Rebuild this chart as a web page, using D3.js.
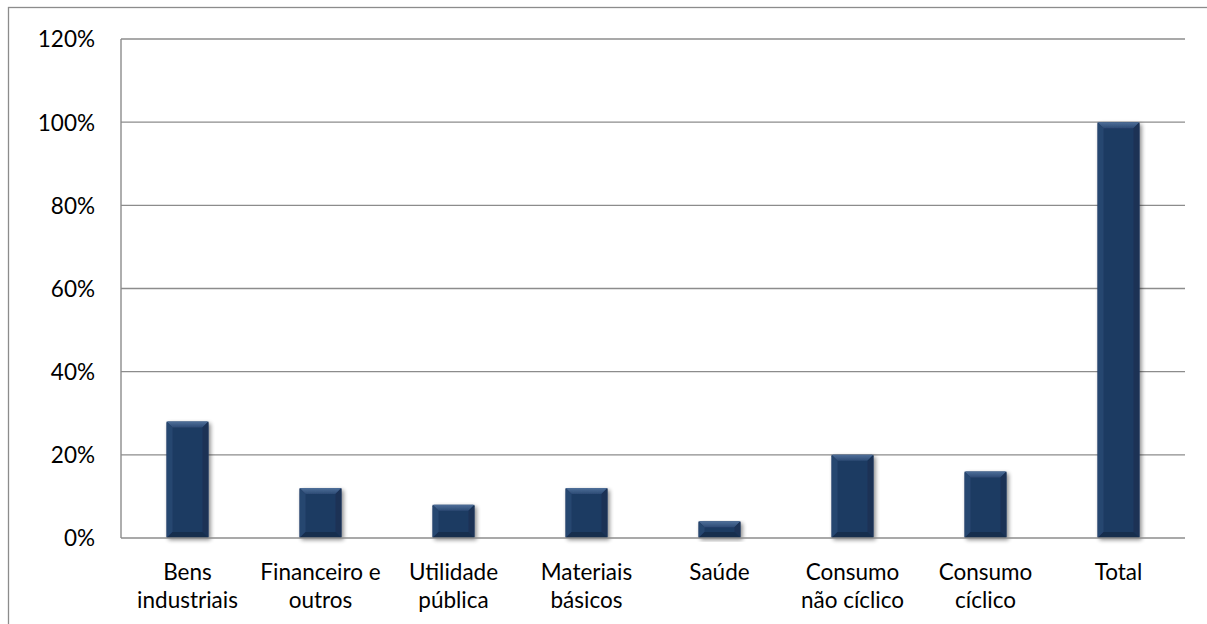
<!DOCTYPE html>
<html>
<head>
<meta charset="utf-8">
<script src="https://cdn.jsdelivr.net/npm/d3@7"></script>
<style>
  html, body { margin: 0; padding: 0; background: #fff; }
  svg { display: block; }
  text { font-family: Lato, "Open Sans", sans-serif; fill: #000; }
</style>
</head>
<body>
<svg id="chart" width="1207" height="624"></svg>
<script>
const categories = [
  ["Bens", "industriais"],
  ["Financeiro e", "outros"],
  ["Utilidade", "pública"],
  ["Materiais", "básicos"],
  ["Saúde"],
  ["Consumo", "não cíclico"],
  ["Consumo", "cíclico"],
  ["Total"]
];
const values = [28, 12, 8, 12, 4, 20, 16, 100];
const yTicks = [0, 20, 40, 60, 80, 100, 120];

const svg = d3.select("#chart");
const plot = { left: 121, right: 1185, top: 39, bottom: 538 };
const FONT = "22.5px";

// outer chart border
svg.append("rect")
  .attr("x", 8.5).attr("y", 7.5)
  .attr("width", 1240).attr("height", 700)
  .attr("fill", "none").attr("stroke", "#8c8c8c").attr("stroke-width", 1.3);

const x = d3.scaleBand()
  .domain(d3.range(categories.length))
  .range([plot.left, plot.right])
  .paddingInner(0.685).paddingOuter(0.3425);

const y = d3.scaleLinear().domain([0, 120]).range([plot.bottom, plot.top]);

const defs = svg.append("defs");
const f = defs.append("filter").attr("id", "shadow")
  .attr("x", "-30%").attr("y", "-10%").attr("width", "160%").attr("height", "130%");
f.append("feGaussianBlur").attr("in", "SourceAlpha").attr("stdDeviation", 2.2).attr("result", "b");
f.append("feOffset").attr("in", "b").attr("dx", 1.5).attr("dy", 1.5).attr("result", "o");
f.append("feComponentTransfer").attr("in", "o").attr("result", "o2")
  .append("feFuncA").attr("type", "linear").attr("slope", 0.45);
const m = f.append("feMerge");
m.append("feMergeNode").attr("in", "o2");
m.append("feMergeNode").attr("in", "SourceGraphic");

const topGrad = defs.append("linearGradient").attr("id", "topGrad")
  .attr("x1", 0).attr("y1", 0).attr("x2", 0).attr("y2", 1);
topGrad.append("stop").attr("offset", "0%").attr("stop-color", "#4f6f99");
topGrad.append("stop").attr("offset", "100%").attr("stop-color", "#2c4a74");

// gridlines
svg.append("g").attr("class", "grid")
  .selectAll("line").data(yTicks.filter(d => d > 0)).join("line")
  .attr("x1", plot.left).attr("x2", plot.right)
  .attr("y1", d => y(d)).attr("y2", d => y(d))
  .attr("stroke", "#8c8c8c").attr("stroke-width", 1.4);

// y axis labels
const yAxis = d3.axisLeft(y).tickValues(yTicks).tickSize(0).tickFormat(d => d + "%");
const gy = svg.append("g").attr("transform", `translate(${plot.left},0)`).call(yAxis);
gy.select(".domain").remove();
gy.selectAll("text").attr("x", -26).attr("dy", "0.35em")
  .style("font-size", FONT).style("font-family", "Lato, 'Open Sans', sans-serif").attr("fill", "#000");

// left axis line
svg.append("line")
  .attr("x1", plot.left).attr("x2", plot.left)
  .attr("y1", plot.top).attr("y2", plot.bottom)
  .attr("stroke", "#8c8c8c").attr("stroke-width", 1.4);

// bars
const bars = svg.append("g").selectAll("g.bar").data(values).join("g").attr("class", "bar")
  .attr("filter", "url(#shadow)");
bars.each(function(v, i) {
  const g = d3.select(this);
  const x0 = x(i), w = x.bandwidth();
  const y0 = y(v), y1 = y(0);
  const h = y1 - y0;
  const bev = Math.min(6, h / 2);
  g.append("rect").attr("x", x0).attr("y", y0).attr("width", w).attr("height", h)
    .attr("fill", "#1f3a62").attr("rx", 1.5);
  g.append("path")
    .attr("d", `M${x0},${y0} L${x0 + w},${y0} L${x0 + w - bev},${y0 + bev} L${x0 + bev},${y0 + bev} Z`)
    .attr("fill", "url(#topGrad)");
  g.append("path")
    .attr("d", `M${x0},${y0} L${x0 + bev},${y0 + bev} L${x0 + bev},${y1 - bev} L${x0},${y1} Z`)
    .attr("fill", "#28466f");
  g.append("path")
    .attr("d", `M${x0 + w},${y0} L${x0 + w - bev},${y0 + bev} L${x0 + w - bev},${y1 - bev} L${x0 + w},${y1} Z`)
    .attr("fill", "#1a3255");
  g.append("path")
    .attr("d", `M${x0},${y1} L${x0 + bev},${y1 - bev} L${x0 + w - bev},${y1 - bev} L${x0 + w},${y1} Z`)
    .attr("fill", "#172d4e");
});

// baseline
svg.append("line")
  .attr("x1", plot.left).attr("x2", plot.right)
  .attr("y1", y(0)).attr("y2", y(0))
  .attr("stroke", "#8c8c8c").attr("stroke-width", 1.6);

// x axis labels
const xl = svg.append("g").selectAll("text").data(categories).join("text")
  .attr("text-anchor", "middle")
  .attr("x", (d, i) => x(i) + x.bandwidth() / 2)
  .attr("y", 580)
  .style("font-size", FONT);
xl.selectAll("tspan").data(d => d).join("tspan")
  .attr("x", function() { return d3.select(this.parentNode).attr("x"); })
  .attr("dy", (d, j) => j === 0 ? 0 : 28)
  .text(d => d);
</script>
</body>
</html>
